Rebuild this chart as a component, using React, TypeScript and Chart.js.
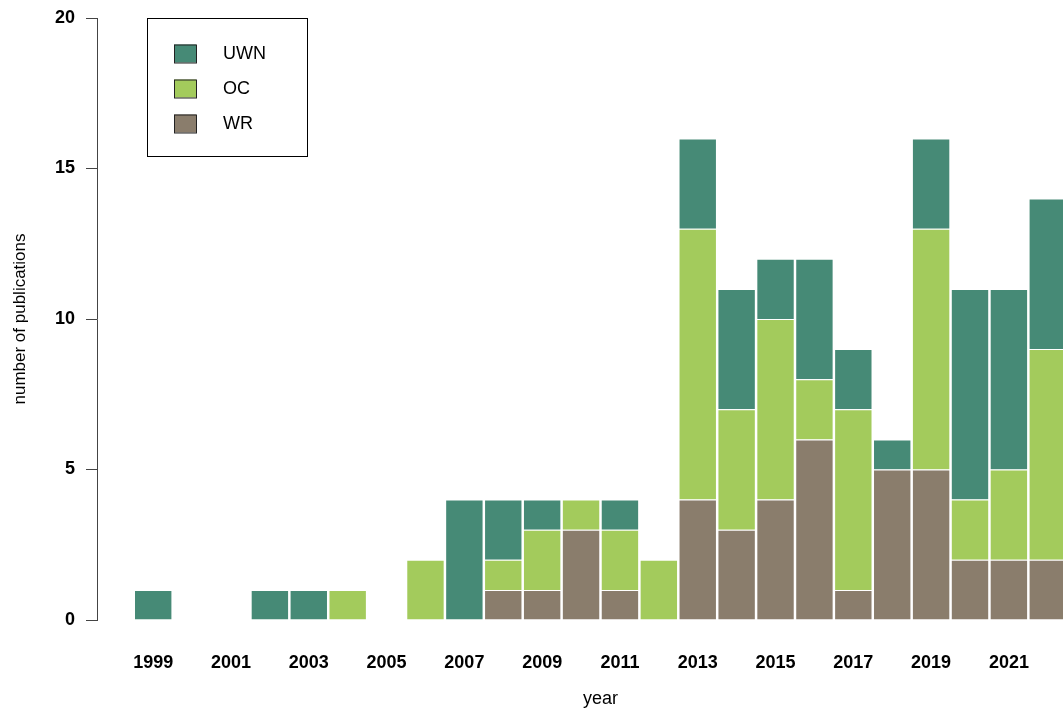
import React, { useEffect, useRef } from "react";
import { Chart, registerables } from "chart.js";

Chart.register(...registerables);

const years = [1999, 2000, 2001, 2002, 2003, 2004, 2005, 2006, 2007, 2008, 2009, 2010, 2011, 2012, 2013, 2014, 2015, 2016, 2017, 2018, 2019, 2020, 2021, 2022];
const wrValues = [0, 0, 0, 0, 0, 0, 0, 0, 0, 1, 1, 3, 1, 0, 4, 3, 4, 6, 1, 5, 5, 2, 2, 2];
const ocValues = [0, 0, 0, 0, 0, 1, 0, 2, 0, 1, 2, 1, 2, 2, 9, 4, 6, 2, 6, 0, 8, 2, 3, 7];
const uwnValues = [1, 0, 0, 1, 1, 0, 0, 0, 4, 2, 1, 0, 1, 0, 3, 4, 2, 4, 2, 1, 3, 7, 6, 5];
const xTickYears = [1999, 2001, 2003, 2005, 2007, 2009, 2011, 2013, 2015, 2017, 2019, 2021];
const yTickValues = [0, 5, 10, 15, 20];

const COLORS = { UWN: "#468a76", OC: "#a3cb5c", WR: "#8a7d6c" };
const FONT = "'Liberation Sans', Arial, Helvetica, sans-serif";

const legendPlugin = {
  id: "boxLegend",
  afterDraw(chart: any) {
    const ctx = chart.ctx;
    const area = chart.chartArea;
    const left = area.left + 50;
    const top = area.top;
    const w = 160;
    const h = 138;
    ctx.save();
    ctx.strokeStyle = "#000";
    ctx.lineWidth = 1;
    ctx.strokeRect(left + 0.5, top + 0.5, w, h);
    const items = [...chart.data.datasets].reverse();
    items.forEach((ds: any, i: number) => {
      const cy = top + 35.5 + i * 35;
      ctx.fillStyle = ds.backgroundColor;
      ctx.fillRect(left + 27, cy - 9, 22, 18);
      ctx.strokeStyle = "#222";
      ctx.strokeRect(left + 27.5, cy - 8.5, 22, 18);
      ctx.fillStyle = "#000";
      ctx.font = `18px ${FONT}`;
      ctx.textBaseline = "middle";
      ctx.textAlign = "left";
      ctx.fillText(ds.label, left + 76, cy + 0.5);
    });
    ctx.restore();
  },
};

export default function App() {
  const ref = useRef<HTMLCanvasElement | null>(null);

  useEffect(() => {
    if (!ref.current) return;
    const mk = (vals: number[]) => years.map((yr, i) => ({ x: yr, y: vals[i] }));
    const common = {
      borderColor: "#ffffff",
      borderWidth: { left: 1.25, right: 1.25, top: 1, bottom: 0 },
      borderSkipped: false,
      inflateAmount: 0,
      barPercentage: 1,
      categoryPercentage: 1,
    };
    const chart = new Chart(ref.current, {
      type: "bar",
      data: {
        datasets: [
          { label: "WR", data: mk(wrValues), backgroundColor: COLORS.WR, ...common },
          { label: "OC", data: mk(ocValues), backgroundColor: COLORS.OC, ...common },
          { label: "UWN", data: mk(uwnValues), backgroundColor: COLORS.UWN, ...common },
        ],
      },
      options: {
        animation: false,
        responsive: false,
        devicePixelRatio: 1,
        layout: { padding: { top: 18, left: 0, right: 0, bottom: 0 } },
        plugins: { legend: { display: false }, tooltip: { enabled: false } },
        scales: {
          x: {
            type: "linear",
            stacked: true,
            offset: false,
            min: 1997.555,
            max: 2023.445,
            grid: { display: false },
            border: { display: false },
            afterBuildTicks: (s: any) => {
              s.ticks = xTickYears.map((v) => ({ value: v }));
            },
            afterFit: (s: any) => {
              s.height = 90;
              s.paddingLeft = 0;
              s.paddingRight = 0;
            },
            ticks: {
              autoSkip: false,
              maxRotation: 0,
              padding: 24,
              color: "#000",
              font: { family: FONT, size: 18, weight: "bold" },
              callback: (v: any) => String(v),
            },
            title: {
              display: true,
              text: "year",
              color: "#000",
              font: { family: FONT, size: 18 },
              padding: { top: 1, bottom: 0 },
            },
          },
          y: {
            stacked: true,
            min: 0,
            max: 20,
            afterBuildTicks: (s: any) => {
              s.ticks = yTickValues.map((v) => ({ value: v }));
            },
            afterFit: (s: any) => {
              s.width = 97;
              s.paddingTop = 0;
              s.paddingBottom = 0;
            },
            grid: { drawOnChartArea: false, drawTicks: true, tickLength: 11, color: "#444", lineWidth: 1 },
            border: { display: true, color: "#444", width: 1 },
            ticks: {
              padding: 11,
              color: "#000",
              font: { family: FONT, size: 18, weight: "bold" },
              callback: (v: any) => String(v),
            },
            title: {
              display: true,
              text: "number of publications",
              color: "#000",
              font: { family: FONT, size: 17 },
              padding: { top: 10, bottom: 0 },
            },
          },
        },
      },
      plugins: [legendPlugin],
    } as any);
    return () => chart.destroy();
  }, []);

  return (
    <div style={{ position: "fixed", left: 0, top: 0, width: 1063, height: 710, overflow: "hidden", background: "#fff" }}>
      <canvas ref={ref} width={1104} height={710} style={{ width: 1104, height: 710, display: "block" }} />
    </div>
  );
}
